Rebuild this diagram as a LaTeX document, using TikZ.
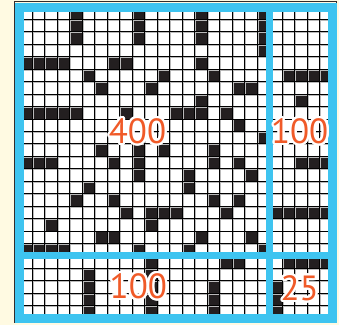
\documentclass[tikz,border=0pt]{standalone}
\usepackage{fontspec}
\setmainfont{PT Sans}
\usepackage{contour}
\contourlength{2.2pt}
\contournumber{20}
\definecolor{cream}{RGB}{255,250,226}
\definecolor{frameblue}{RGB}{62,196,240}
\definecolor{cellblk}{RGB}{35,31,32}
\definecolor{labelred}{RGB}{240,90,40}
\definecolor{edgedark}{RGB}{50,45,45}
\tikzset{
  blk/.style={fill=cellblk},
  gridshadow/.style={draw=gray!55,line width=1.2pt},
  gridline/.style={draw=black,line width=0.85pt},
  outerblue/.style={draw=frameblue,line width=9pt},
  innerblue/.style={draw=frameblue,line width=7pt},
  arealabel/.style={inner sep=0pt,text=labelred,font=\fontsize{35}{35}\selectfont}
}
\begin{document}
\begin{tikzpicture}[x=1pt,y=1pt]
\fill[cream] (0,0) rectangle (339,325);
\useasboundingbox (0,0) rectangle (339,325);
\draw[edgedark,line width=1.1pt] (14.6,2.4) rectangle (336.9,323.3);
\begin{scope}[shift={(19.5pt,318pt)},x=12.5pt,y=-12.44pt]
  \fill[white] (0,0) rectangle (25,25);
  \foreach \c/\r in {4/0,9/0,14/0,19/0,4/1,9/1,14/1,19/1,4/2,9/2,14/2,19/2,19/3,
    0/4,1/4,2/4,3/4,7/4,8/4,14/4,
    5/5,11/5,15/5,21/5,22/5,23/5,24/5,
    6/6,10/6,17/6,18/6,
    14/7,22/7,
    0/8,1/8,2/8,3/8,4/8,8/8,12/8,13/8,14/8,16/8,
    17/9,19/10,
    6/11,9/11,11/11,15/11,
    0/12,1/12,2/12,7/12,9/12,15/12,17/12,22/12,23/12,24/12,
    9/13,13/13,18/13,
    5/14,13/14,
    4/15,7/15,15/15,17/15,
    8/16,10/16,11/16,12/16,16/16,20/16,21/16,22/16,23/16,24/16,
    2/17,10/17,
    6/18,7/18,14/18,18/18,
    0/19,1/19,2/19,3/19,9/19,13/19,19/19,
    10/20,16/20,17/20,21/20,22/20,23/20,24/20,
    5/21,10/21,
    5/22,10/22,15/22,20/22,
    5/23,10/23,15/23,20/23,
    5/24,10/24,15/24,20/24}
    \fill[blk] (\c,\r) rectangle ++(1,1);
  \begin{scope}[xshift=0.9pt,yshift=-0.9pt]
    \foreach \i in {1,...,24} {
      \draw[gridshadow] (\i,0) -- (\i,25);
      \draw[gridshadow] (0,\i) -- (25,\i);
    }
  \end{scope}
  \foreach \i in {1,...,24} {
    \draw[gridline] (\i,0) -- (\i,25);
    \draw[gridline] (0,\i) -- (25,\i);
  }
  \draw[innerblue] (20,0) -- (20,25);
  \draw[innerblue] (0,20) -- (25,20);
  \draw[outerblue] (0,0) rectangle (25,25);
\end{scope}
\node[arealabel] (lbig) at (137.5,192.5) {\contour{white}{400}};
\node[arealabel] (lright) at (299.7,192.5) {\contour{white}{100}};
\node[arealabel] (lbottom) at (138.3,37.5) {\contour{white}{100}};
\node[arealabel] (lsmall) at (299.7,35.5) {\contour{white}{25}};
\end{tikzpicture}
\end{document}
